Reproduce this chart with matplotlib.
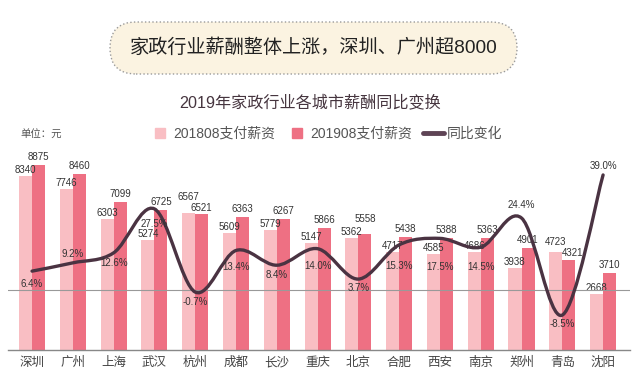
import numpy as np
import matplotlib
matplotlib.use('Agg')
import matplotlib.pyplot as plt
from matplotlib.patches import FancyBboxPatch, PathPatch
from matplotlib.path import Path
from matplotlib.lines import Line2D
from matplotlib.transforms import IdentityTransform

plt.rcParams['font.family'] = ['Liberation Sans', 'Noto Sans CJK SC', 'DejaVu Sans']

# data
cities = ['深圳', '广州', '上海', '武汉', '杭州', '成都', '长沙', '重庆',
          '北京', '合肥', '西安', '南京', '郑州', '青岛', '沈阳']
pay_201808 = [8340, 7746, 6303, 5274, 6567, 5609, 5779, 5147,
              5362, 4717, 4585, 4686, 3938, 4723, 2668]
pay_201908 = [8875, 8460, 7099, 6725, 6521, 6363, 6267, 5866,
              5558, 5438, 5388, 5363, 4901, 4321, 3710]
yoy_change = [6.4, 9.2, 12.6, 27.5, -0.7, 13.4, 8.4, 14.0,
              3.7, 15.3, 17.5, 14.5, 24.4, -8.5, 39.0]

# label placement (pixels): % texts below the point (negative = above),
# extra lift for bar labels that would collide
pct_offsets = [13, -9, 10, 15, 10, 17, 10, 17, 9, 21, 29, 20, -13, 9, -9]
pad_808 = [1, 1, 1, 1, 11, 1, 1, 1, 1, 1, 1, 1, 1, 5, 1]
pad_908 = [3, 3, 3, 3, 1, 3, 3, 3, 10, 3, 3, 3, 3, 2, 3]
shift_908 = [0, 0, 0, 0, 0, 0, 0, 0, 0, 0, 0, 0, 0, 4, 0]

pale = '#F9BEC3'
deep = '#EE7083'
line_c = '#4A3342'

fig = plt.figure(figsize=(6.4, 3.81), dpi=100)

# title box
box = FancyBboxPatch((110, 381 - 74), 407, 52,
                     boxstyle='round,pad=0,rounding_size=26',
                     transform=IdentityTransform(), facecolor='#FBF3E1',
                     edgecolor='#9a9a9a', linestyle=':', lw=1.0)
fig.patches.append(box)
fig.text(314 / 640, 1 - 48 / 381, '家政行业薪酬整体上涨，深圳、广州超8000',
         ha='center', va='center', fontsize=13.8, color='#222222')
fig.text(310 / 640, 1 - 102 / 381, '2019年家政行业各城市薪酬同比变换',
         ha='center', va='center', fontsize=11.6, color='#46353F')
fig.text(20 / 640, 1 - 135 / 381, '单位：元', ha='left', va='center',
         fontsize=7.5, color='#555555')

# bars
ax = fig.add_axes([8 / 640, 31 / 381, 622 / 640, 200 / 381])
x = np.arange(len(cities))
w = 0.32
b1 = ax.bar(x - w / 2, pay_201808, w, color=pale)
b2 = ax.bar(x + w / 2, pay_201908, w, color=deep)
zero_shift = [0] * len(cities)
for bars, vals, pads, shifts in [(b1, pay_201808, pad_808, zero_shift),
                                 (b2, pay_201908, pad_908, shift_908)]:
    for rect, v, p, s in zip(bars, vals, pads, shifts):
        ax.annotate(str(v), (rect.get_x() + rect.get_width() / 2, v),
                    xytext=(s, p), textcoords='offset pixels',
                    ha='center', va='bottom', fontsize=7, color='#333333')
ax.set_xlim(-0.59, 14.66)
ax.set_ylim(0, 9600)
ax.set_xticks(x, cities)
ax.tick_params(axis='x', length=0, pad=5, labelsize=9, labelcolor='#444444')
ax.set_yticks([])
for s in ['top', 'left', 'right']:
    ax.spines[s].set_visible(False)
ax.spines['bottom'].set_color('#888888')
ax.spines['bottom'].set_linewidth(1.0)

# yoy line on a second scale
ax2 = ax.twinx()
ax2.set_ylim(-20.34, 47.46)
ax2.set_yticks([])
for s in ax2.spines.values():
    s.set_visible(False)
ax2.axhline(0, color='#999999', lw=0.8, zorder=1)

# smooth curve through the points (Catmull-Rom as cubic Bezier)
pts = np.column_stack([x, yoy_change]).astype(float)
ext = np.vstack([pts[0], pts, pts[-1]])
verts = [tuple(pts[0])]
codes = [Path.MOVETO]
for i in range(len(pts) - 1):
    p0, p1, p2, p3 = ext[i], ext[i + 1], ext[i + 2], ext[i + 3]
    c1 = p1 + (p2 - p0) / 6
    c2 = p2 - (p3 - p1) / 6
    verts += [tuple(c1), tuple(c2), tuple(p2)]
    codes += [Path.CURVE4] * 3
ax2.add_patch(PathPatch(Path(verts, codes), fill=False, edgecolor=line_c,
                        lw=2.4, capstyle='round', zorder=3))

for i, v in enumerate(yoy_change):
    ax2.annotate(f'{v:.1f}%', (i, v), xytext=(0, -pct_offsets[i]),
                 textcoords='offset pixels', ha='center', va='center',
                 fontsize=7, color='#333333', zorder=4)

handles = [Line2D([], [], marker='s', ls='none', markersize=7,
                  markerfacecolor=pale, markeredgecolor=pale),
           Line2D([], [], marker='s', ls='none', markersize=7,
                  markerfacecolor=deep, markeredgecolor=deep),
           Line2D([], [], color='#5E4455', lw=3.5, solid_capstyle='round')]
fig.legend(handles, ['201808支付薪资', '201908支付薪资', '同比变化'],
           loc='center', bbox_to_anchor=(326 / 640, 1 - 134 / 381), ncol=3,
           frameon=False, fontsize=10, handlelength=1.5, handletextpad=0.2,
           columnspacing=0.8, labelcolor='#555555')

fig.savefig('out.png', dpi=100)
